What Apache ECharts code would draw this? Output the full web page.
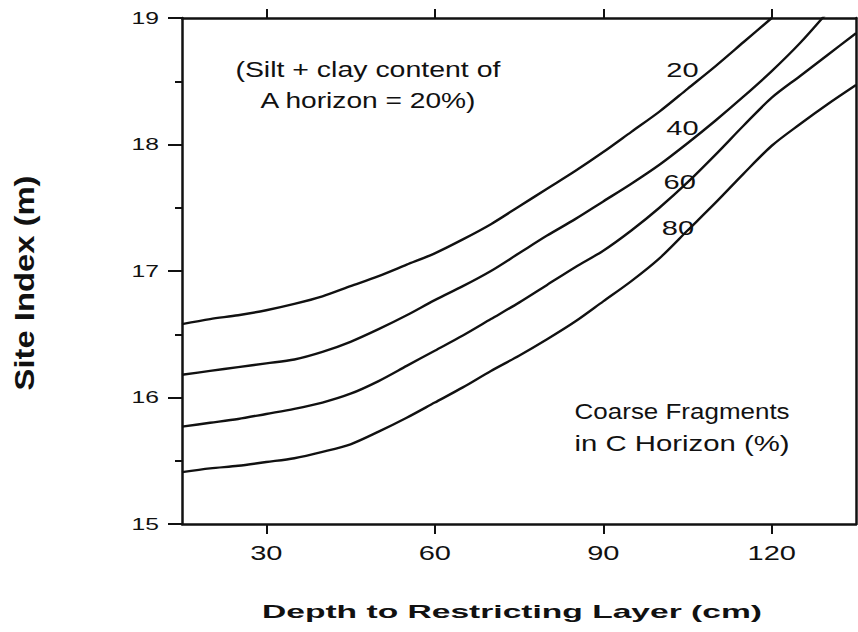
<!DOCTYPE html>
<html>
<head>
<meta charset="utf-8">
<script src="https://cdn.jsdelivr.net/npm/echarts@6/dist/echarts.min.js"></script>
<style>
  html, body { margin: 0; padding: 0; background: #fff; }
  #chart { width: 858px; height: 632px; }
</style>
</head>
<body>
<div id="chart"></div>
<script>
// depth to restricting layer (cm)
var depth = [15, 20, 25, 30, 35, 40, 45, 50, 55, 60, 65, 70, 75, 80, 85, 90, 95, 100, 105, 110, 115, 120, 125, 130, 135];

// site index (m) for each % of coarse fragments in C horizon
var cf20 = [16.58, 16.62, 16.65, 16.69, 16.74, 16.80, 16.88, 16.96, 17.05, 17.14, 17.25, 17.37, 17.51, 17.65, 17.79, 17.94, 18.10, 18.26, 18.44, 18.62, 18.81, 19.00, null, null, null];
var cf40 = [16.18, 16.21, 16.24, 16.27, 16.30, 16.36, 16.44, 16.54, 16.65, 16.77, 16.88, 17.00, 17.14, 17.28, 17.41, 17.55, 17.69, 17.84, 18.01, 18.19, 18.38, 18.58, 18.80, 19.05, null];
var cf60 = [15.77, 15.80, 15.83, 15.87, 15.91, 15.96, 16.03, 16.13, 16.25, 16.37, 16.49, 16.62, 16.75, 16.89, 17.03, 17.16, 17.32, 17.50, 17.70, 17.92, 18.15, 18.37, 18.54, 18.71, 18.88];
var cf80 = [15.41, 15.44, 15.46, 15.49, 15.52, 15.57, 15.63, 15.73, 15.84, 15.96, 16.08, 16.21, 16.33, 16.46, 16.60, 16.76, 16.92, 17.10, 17.32, 17.54, 17.77, 17.99, 18.16, 18.32, 18.47];

var curveNames = ["20", "40", "60", "80"];
var xTicks = [30, 60, 90, 120];
var yMin = 15, yMax = 19;

var ink = "#111";
var font = "Liberation Sans";

// the scan is stretched sideways, so texts get widened after drawing
var textWidths = {
  "Depth to Restricting Layer (cm)": 500,
  "Site Index (m)": 215,
  "(Silt + clay content of": 265,
  "A horizon = 20%)": 215,
  "Coarse Fragments": 215,
  "in C Horizon (%)": 215
};
var numStretch = 1.45;

function pairs(vals) {
  var out = [];
  for (var i = 0; i < depth.length; i++) {
    if (vals[i] != null) out.push([depth[i], vals[i]]);
  }
  return out;
}

function curve(name, vals, labelAt) {
  return {
    name: name,
    type: "line",
    data: pairs(vals),
    symbol: "none",
    smooth: 0.3,
    lineStyle: { color: ink, width: 2.4 },
    silent: true,
    markPoint: {
      symbol: "circle",
      symbolSize: 0,
      silent: true,
      label: { show: true, position: "inside", formatter: name, color: ink, fontSize: 20, fontFamily: font },
      data: [{ coord: labelAt }]
    }
  };
}

var axisLine = { show: true, onZero: false, lineStyle: { color: ink, width: 2.5 } };
var tickStyle = { color: ink, width: 2 };

var option = {
  animation: false,
  backgroundColor: "#fff",
  textStyle: { fontFamily: font, color: ink },
  grid: { left: 182, right: 2, top: 18, bottom: 108 },
  xAxis: [
    {
      type: "value", min: 15, max: 135, position: "bottom",
      axisLine: axisLine,
      axisTick: { show: true, customValues: xTicks, length: 10, lineStyle: tickStyle },
      axisLabel: { customValues: xTicks, fontSize: 20, color: ink, margin: 19, fontFamily: font },
      splitLine: { show: false }
    },
    {
      type: "value", min: 15, max: 135, position: "top",
      axisLine: axisLine,
      axisTick: { show: true, customValues: xTicks, length: 9, lineStyle: tickStyle },
      axisLabel: { show: false },
      splitLine: { show: false }
    }
  ],
  yAxis: [
    {
      type: "value", min: yMin, max: yMax, interval: 1, position: "left",
      axisLine: axisLine,
      axisTick: { show: true, length: 14, lineStyle: tickStyle },
      minorTick: { show: true, splitNumber: 2, length: 7, lineStyle: tickStyle },
      axisLabel: { fontSize: 17, color: ink, margin: 23, fontFamily: font },
      splitLine: { show: false }
    },
    {
      type: "value", min: yMin, max: yMax, position: "right",
      axisLine: axisLine,
      axisTick: { show: false },
      axisLabel: { show: false },
      splitLine: { show: false }
    }
  ],
  series: [
    curve(curveNames[0], cf20, [104.1, 18.59]),
    curve(curveNames[1], cf40, [104.1, 18.13]),
    curve(curveNames[2], cf60, [103.6, 17.70]),
    curve(curveNames[3], cf80, [103.3, 17.34]),
    {
      name: "notes",
      type: "line",
      data: [],
      silent: true,
      markPoint: {
        symbol: "circle",
        symbolSize: 0,
        silent: true,
        data: [
          {
            coord: [48.1, 18.47],
            label: {
              show: true, position: "inside", align: "center",
              formatter: "(Silt + clay content of\nA horizon = 20%)",
              fontSize: 22, lineHeight: 31, color: ink, fontFamily: font
            }
          },
          {
            coord: [84.9, 15.76],
            label: {
              show: true, position: "inside", align: "left",
              formatter: "Coarse Fragments\nin C Horizon (%)",
              fontSize: 22, lineHeight: 32, color: ink, fontFamily: font
            }
          }
        ]
      }
    }
  ],
  graphic: [
    {
      type: "text", x: 512, y: 611, silent: true,
      style: { text: "Depth to Restricting Layer (cm)", fill: ink, fontSize: 19, fontWeight: "bold", fontFamily: font, align: "center", verticalAlign: "middle" }
    },
    {
      type: "text", x: 25, y: 283, rotation: Math.PI / 2, silent: true,
      style: { text: "Site Index (m)", fill: ink, fontSize: 27, fontWeight: "bold", fontFamily: font, align: "center", verticalAlign: "middle" }
    }
  ]
};

var dom = document.getElementById("chart");
var myChart = echarts.init(dom, null, { renderer: "svg" });

function stretchTexts() {
  var texts = dom.querySelectorAll("text");
  texts.forEach(function(t) {
    if (t.getAttribute("data-stretched")) return;
    var s = t.textContent;
    var natural = t.getComputedTextLength();
    if (!natural) return;
    var w = textWidths[s] != null ? textWidths[s] : natural * numStretch;
    t.setAttribute("textLength", w);
    t.setAttribute("lengthAdjust", "spacingAndGlyphs");
    t.setAttribute("data-stretched", "1");
  });
}

myChart.on("finished", stretchTexts);
myChart.setOption(option);
setTimeout(stretchTexts, 50);
</script>
</body>
</html>
